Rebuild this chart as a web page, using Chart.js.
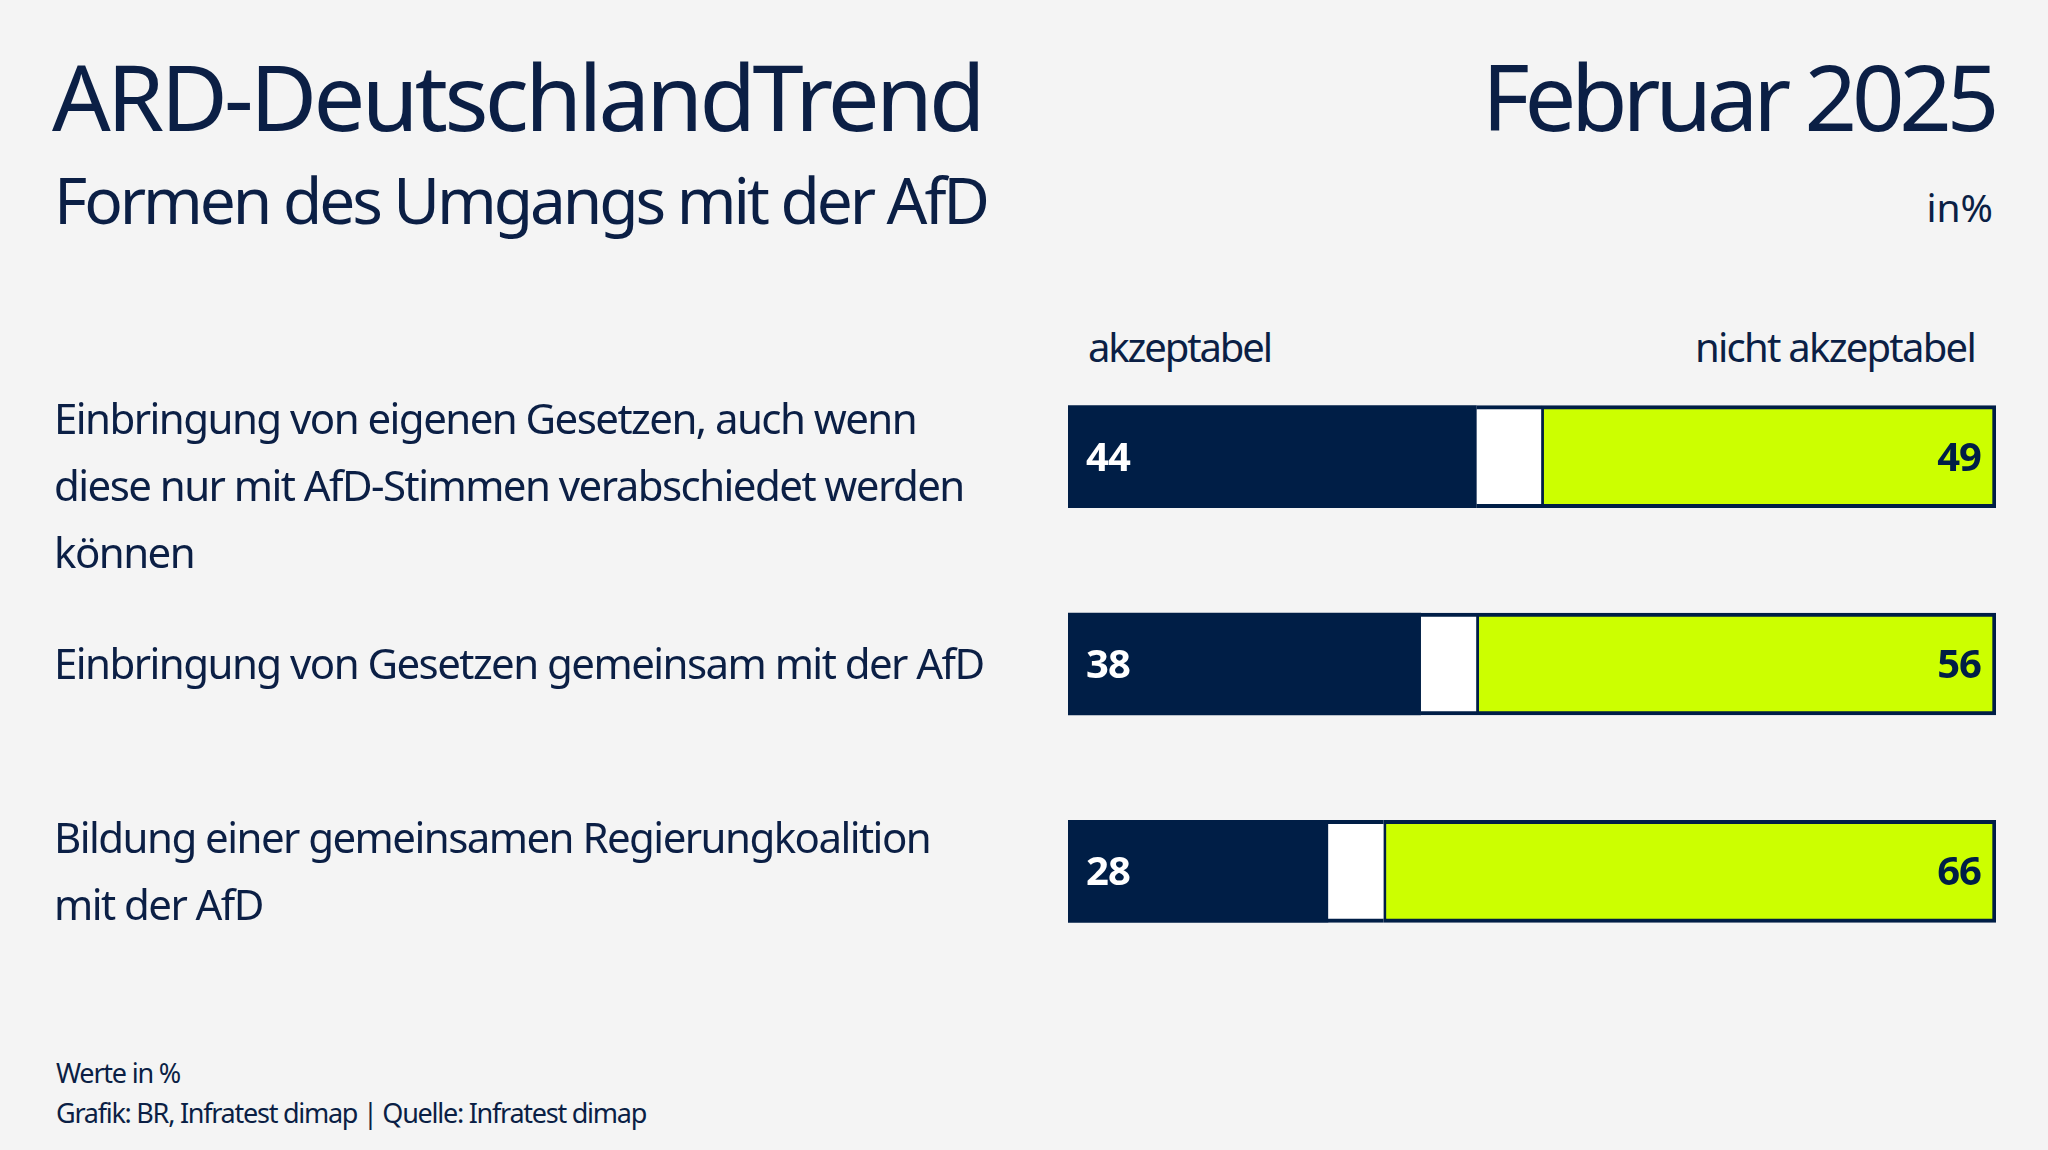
<!DOCTYPE html>
<html lang="de">
<head>
<meta charset="utf-8">
<title>ARD-DeutschlandTrend Februar 2025</title>
<script src="https://cdn.jsdelivr.net/npm/chart.js@4.4.1/dist/chart.umd.min.js"></script>
<style>
  html, body { margin: 0; padding: 0; background: #f4f4f4; }
  body { width: 2048px; height: 1150px; position: relative; overflow: hidden;
         font-family: "Noto Sans", "Open Sans", sans-serif; color: #0b1f45; }
  .t { position: absolute; white-space: nowrap; line-height: 1; }
  #chartBox { position: absolute; left: 0; top: 0; width: 2048px; height: 1150px; }
</style>
</head>
<body>
<div class="t" data-w="930" style="left:52px;top:50px;font-size:92px;">ARD-DeutschlandTrend</div>
<div class="t" data-w="512" style="right:54px;top:50px;font-size:92px;">Februar 2025</div>
<div class="t" data-w="933" style="left:54px;top:168px;font-size:64px;">Formen des Umgangs mit der AfD</div>
<div class="t" style="right:55px;top:187px;font-size:39px;">in%</div>
<div class="t" data-w="183" style="left:1088px;top:327px;font-size:40px;">akzeptabel</div>
<div class="t" data-w="280" style="right:73px;top:327px;font-size:40px;">nicht akzeptabel</div>
<div class="t" data-w="124" style="left:56px;top:1059px;font-size:27px;">Werte in %</div>
<div class="t" data-w="590" style="left:56px;top:1099px;font-size:27px;">Grafik: BR, Infratest dimap | Quelle: Infratest dimap</div>

<div id="chartBox"><canvas id="trendChart"></canvas></div>

<script>
const categories = [
  ["Einbringung von eigenen Gesetzen, auch wenn", "diese nur mit AfD-Stimmen verabschiedet werden", "können"],
  ["Einbringung von Gesetzen gemeinsam mit der AfD"],
  ["Bildung einer gemeinsamen Regierungkoalition", "mit der AfD"]
];
const akzeptabel = [44, 38, 28];
const weissNicht = [7, 6, 6];
const nichtAkzeptabel = [49, 56, 66];

const navy = "#001e46";
const lime = "#ccff00";

// stretch the html texts to the widths of the original lettering
const fitTexts = () => {
  document.querySelectorAll(".t[data-w]").forEach((el) => {
    const target = +el.dataset.w;
    const w = el.getBoundingClientRect().width;
    const n = el.textContent.length;
    el.style.letterSpacing = ((target - w) / n) + "px";
  });
};

// draws row labels on the left and the numbers inside the bars
const labelPlugin = {
  id: "rowLabels",
  afterDatasetsDraw(chart) {
    const ctx = chart.ctx;
    const left = chart.getDatasetMeta(0);
    const right = chart.getDatasetMeta(2);
    ctx.save();
    ctx.textBaseline = "alphabetic";

    ctx.font = "bold 40px 'Noto Sans'";
    ctx.letterSpacing = "-1px";
    left.data.forEach((bar, i) => {
      ctx.fillStyle = "#ffffff";
      ctx.textAlign = "left";
      ctx.fillText(akzeptabel[i], bar.base + 18, bar.y + 14);
      const r = right.data[i];
      ctx.fillStyle = navy;
      ctx.textAlign = "right";
      ctx.fillText(nichtAkzeptabel[i], r.x - 15, r.y + 14);
    });

    ctx.font = "42px 'Noto Sans'";
    ctx.letterSpacing = "-1.55px";
    ctx.fillStyle = "#0b1f45";
    ctx.textAlign = "left";
    const lh = 67, cap = 30;
    left.data.forEach((bar, i) => {
      const lines = categories[i];
      const top = bar.y - bar.height / 2;
      let y0 = bar.y - (lines.length - 1) * lh / 2 + cap / 2;
      y0 = Math.max(y0, top + cap - 2);
      lines.forEach((line, k) => ctx.fillText(line, 54, y0 + k * lh));
    });
    ctx.restore();
  }
};

const renderChart = () => {
  const ctx = document.getElementById("trendChart").getContext("2d");
  new Chart(ctx, {
    type: "bar",
    data: {
      labels: categories.map((c) => c.join(" ")),
      datasets: [
        {
          label: "akzeptabel",
          data: akzeptabel,
          backgroundColor: navy,
          borderWidth: 0
        },
        {
          label: "weiß nicht",
          data: weissNicht,
          backgroundColor: "#ffffff",
          borderColor: navy,
          borderWidth: { top: 4, bottom: 4, left: 0, right: 0 },
          borderSkipped: false
        },
        {
          label: "nicht akzeptabel",
          data: nichtAkzeptabel,
          backgroundColor: lime,
          borderColor: navy,
          borderWidth: { top: 4, bottom: 4, left: 3, right: 4 },
          borderSkipped: false
        }
      ]
    },
    options: {
      indexAxis: "y",
      responsive: true,
      maintainAspectRatio: false,
      animation: false,
      layout: { padding: { left: 1068, right: 52, top: 353, bottom: 175 } },
      datasets: { bar: { barThickness: 102 } },
      scales: {
        x: { stacked: true, min: 0, max: 100, display: false },
        y: { stacked: true, display: false }
      },
      plugins: {
        legend: { display: false },
        tooltip: { enabled: false }
      }
    },
    plugins: [labelPlugin]
  });
};

document.fonts.load("42px 'Noto Sans'").then(() => document.fonts.load("bold 40px 'Noto Sans'")).then(() => {
  fitTexts();
  renderChart();
});
</script>
</body>
</html>
